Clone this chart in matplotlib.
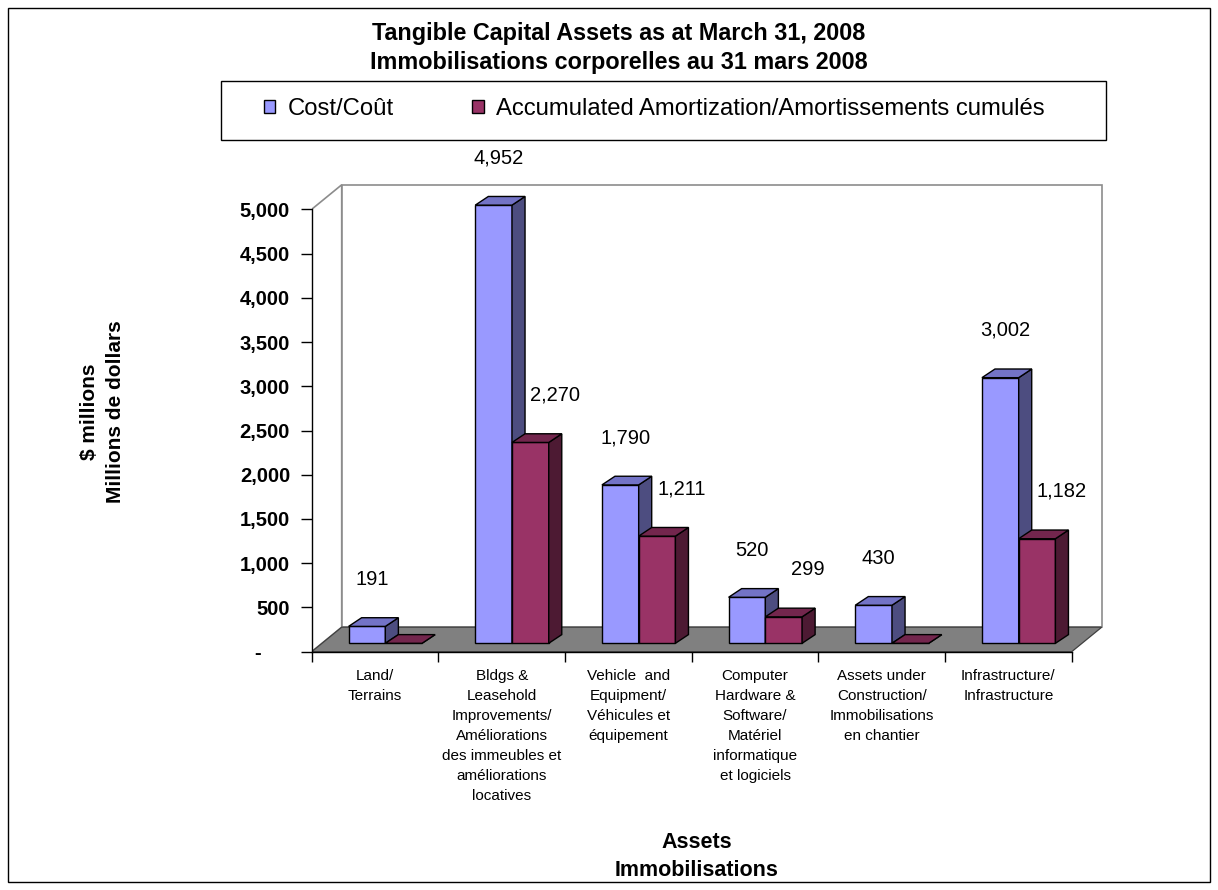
import matplotlib
matplotlib.use("Agg")
import matplotlib.pyplot as plt
from matplotlib.patches import Polygon, Rectangle, Patch

plt.rcParams['font.family'] = ['Liberation Sans', 'DejaVu Sans']

# ---- data -------------------------------------------------------------
title_lines = ["Tangible Capital Assets as at March 31, 2008",
               "Immobilisations corporelles au 31 mars 2008"]
categories = [
    "Land/\nTerrains",
    "Bldgs &\nLeasehold\nImprovements/\nAméliorations\ndes immeubles et\naméliorations\nlocatives",
    "Vehicle  and\nEquipment/\nVéhicules et\néquipement",
    "Computer\nHardware &\nSoftware/\nMatériel\ninformatique\net logiciels",
    "Assets under\nConstruction/\nImmobilisations\nen chantier",
    "Infrastructure/\nInfrastructure",
]
series_names = ["Cost/Coût", "Accumulated Amortization/Amortissements cumulés"]
cost = [191, 4952, 1790, 520, 430, 3002]
amortization = [0, 2270, 1211, 299, 0, 1182]
y_ticks = [0, 500, 1000, 1500, 2000, 2500, 3000, 3500, 4000, 4500, 5000]
y_label = "$ millions\nMillions de dollars"
x_label = "Assets\nImmobilisations"

# ---- styling ----------------------------------------------------------
W, H = 1218, 890
series_colors = [
    {"front": "#9999FF", "top": "#7373C6", "side": "#4D4D80"},
    {"front": "#993366", "top": "#73264D", "side": "#4D1A33"},
]
DEPTH_X, DEPTH_Y = 0.2368, 277.0          # depth of the 3-D box (data units)
BAR_FRONT = 0.343                          # bar front plane as fraction of depth
BAR_DX, BAR_DY = 0.103, 98.0               # depth of each column
BAR_W = 0.29
GROUP_OFFSET = 0.21
Y_MAX = 5000

fig = plt.figure(figsize=(W / 100, H / 100), dpi=100)
fig.patch.set_facecolor("white")

def px(x, y):
    """pixel position (from top-left) -> figure fraction"""
    return x / W, 1 - y / H

# axes placed so that category unit = 126.67 px and 5000 = 442.4 px
x0_px, x_unit = 311.7, 126.67
y0_px, y_unit = 651.7, 0.08848
xlim = (0, 6.3)
ylim = (-200, 5400)
left = x0_px / W
width = (xlim[1] - xlim[0]) * x_unit / W
bottom = 1 - (y0_px - ylim[0] * y_unit) / H
height = (ylim[1] - ylim[0]) * y_unit / H
ax = fig.add_axes([left, bottom, width, height])
ax.set_xlim(*xlim)
ax.set_ylim(*ylim)
ax.patch.set_visible(False)

n = len(categories)
wall_edge = "#8C8C8C"

# walls and floor
left_wall = Polygon([(0, 0), (DEPTH_X, DEPTH_Y), (DEPTH_X, Y_MAX + DEPTH_Y), (0, Y_MAX)],
                    closed=True, facecolor="white", edgecolor=wall_edge, lw=1.2, zorder=1)
back_wall = Polygon([(DEPTH_X, DEPTH_Y), (n + DEPTH_X, DEPTH_Y),
                     (n + DEPTH_X, Y_MAX + DEPTH_Y), (DEPTH_X, Y_MAX + DEPTH_Y)],
                    closed=True, facecolor="white", edgecolor=wall_edge, lw=1.2, zorder=1)
floor = Polygon([(0, 0), (n, 0), (n + DEPTH_X, DEPTH_Y), (DEPTH_X, DEPTH_Y)],
                closed=True, facecolor="#808080", edgecolor="#404040", lw=0.9, zorder=1.5)
for p in (left_wall, back_wall, floor):
    ax.add_patch(p)

# 3-D columns
base = BAR_FRONT * DEPTH_Y
shift = BAR_FRONT * DEPTH_X
label_dx = [3.5, 17.5]  # points
for s, values in enumerate([cost, amortization]):
    col = series_colors[s]
    z = 3 + s
    xs = [i + GROUP_OFFSET + shift + s * BAR_W for i in range(n)]
    ax.bar(xs, values, width=BAR_W, bottom=base, align="edge",
           facecolor=col["front"], edgecolor="black", lw=1.0, zorder=z)
    for x, v in zip(xs, values):
        top = base + v
        top_face = Polygon([(x, top), (x + BAR_W, top),
                            (x + BAR_W + BAR_DX, top + BAR_DY), (x + BAR_DX, top + BAR_DY)],
                           closed=True, facecolor=col["top"], edgecolor="black", lw=1.0, zorder=z)
        side_face = Polygon([(x + BAR_W, base), (x + BAR_W, top),
                             (x + BAR_W + BAR_DX, top + BAR_DY), (x + BAR_W + BAR_DX, base + BAR_DY)],
                            closed=True, facecolor=col["side"], edgecolor="black", lw=1.0, zorder=z)
        ax.add_patch(side_face)
        ax.add_patch(top_face)
        if v:
            ax.annotate(f"{v:,}", xy=(x + BAR_W / 2, top), xytext=(label_dx[s], 34),
                        textcoords="offset points", ha="center", va="center",
                        fontsize=14.5, color="black", zorder=10)

# axes lines and ticks
for side in ("top", "right"):
    ax.spines[side].set_visible(False)
ax.spines["left"].set_bounds(0, Y_MAX)
ax.spines["bottom"].set_position(("data", 0))
ax.spines["bottom"].set_bounds(0, n)
for side in ("left", "bottom"):
    ax.spines[side].set_linewidth(1.0)
    ax.spines[side].set_zorder(2.6)

ax.set_yticks(y_ticks)
ax.set_yticklabels([f"{t:,}" if t else "-     " for t in y_ticks],
                   fontsize=14.5, fontweight="bold")
ax.tick_params(axis="y", direction="out", length=7.9, width=1.0, pad=7.7)

ax.set_xticks(range(n + 1))
ax.set_xticklabels([])
ax.set_xticks([i + 0.5 for i in range(n)], minor=True)
ax.set_xticklabels(categories, minor=True, fontsize=11, linespacing=1.55)
ax.tick_params(axis="x", which="major", direction="out", length=7.2, width=1.0)
ax.tick_params(axis="x", which="minor", length=0, pad=12.5)

# titles
fig.text(*px(618.5, 48), "\n".join(title_lines), ha="center", va="center",
         fontsize=16.8, fontweight="bold", linespacing=1.33)
fig.text(*px(102.5, 411.7), y_label, rotation=90, ha="center", va="center",
         fontsize=15, fontweight="bold", linespacing=1.5)
fig.text(*px(697, 856.5), x_label, ha="center", va="center",
         fontsize=15.5, fontweight="bold", linespacing=1.45)

# legend with its own box
box_l, box_t, box_r, box_b = 221, 81.5, 1106, 140
fig.patches.append(Rectangle(px(box_l, box_b), (box_r - box_l) / W, (box_b - box_t) / H,
                             transform=fig.transFigure, fill=False,
                             edgecolor="black", lw=1.0))
handles = [Patch(facecolor=series_colors[s]["front"], edgecolor="black", lw=1.0)
           for s in range(2)]
fig.legend(handles, series_names, loc="center left", bbox_to_anchor=px(264, 109),
           ncol=2, frameon=False, fontsize=17.2, handlelength=0.48, handleheight=0.48,
           handletextpad=0.5, columnspacing=3.3, borderpad=0, borderaxespad=0)

# outer border
fig.patches.append(Rectangle((8 / W, 8 / H), (W - 16) / W, (H - 16) / H,
                             transform=fig.transFigure, fill=False,
                             edgecolor="black", lw=1.0))

fig.savefig("out.png", dpi=100)
